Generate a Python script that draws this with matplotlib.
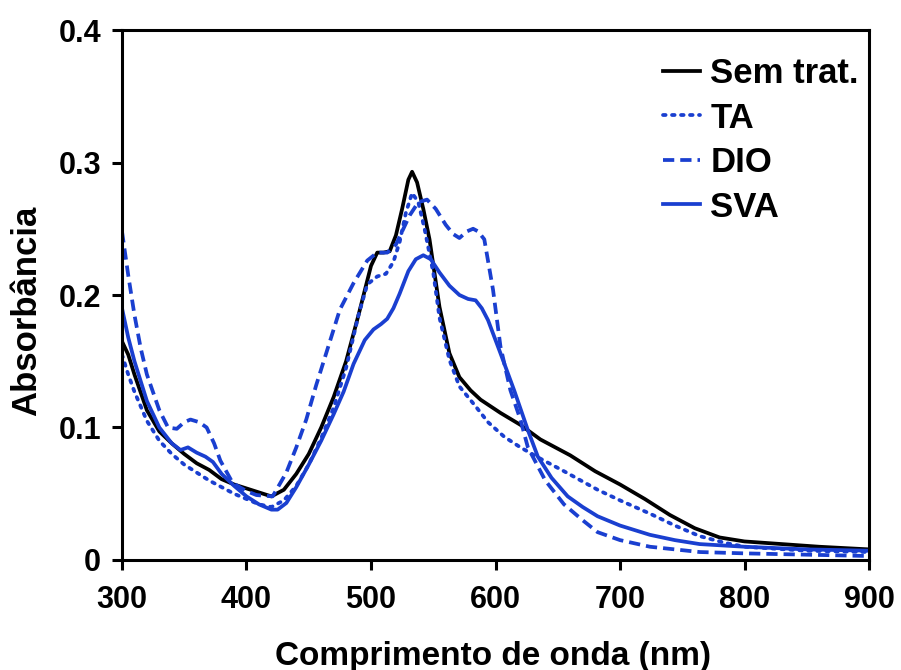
import numpy as np
import matplotlib.pyplot as plt

# UV-vis absorbance spectra
wl_sem = [300, 305, 310, 320, 330, 340, 350, 360, 370, 380, 390, 400, 410, 420, 430,
          440, 450, 460, 470, 480, 490, 500, 505, 510, 515, 520, 525, 530, 533, 537,
          542, 547, 555, 563, 571, 580, 588, 604, 620, 636, 660, 680, 700,
          720, 740, 760, 780, 800, 830, 860, 900]
abs_sem = [0.165, 0.155, 0.140, 0.113, 0.097, 0.088, 0.080, 0.073, 0.068, 0.061, 0.057,
           0.054, 0.051, 0.048, 0.053, 0.065, 0.080, 0.100, 0.123, 0.150, 0.185, 0.222,
           0.232, 0.232, 0.233, 0.245, 0.265, 0.287, 0.293, 0.285, 0.265, 0.242, 0.191,
           0.156, 0.138, 0.128, 0.121, 0.111, 0.102, 0.091, 0.079, 0.067,
           0.057, 0.046, 0.034, 0.024, 0.017, 0.014, 0.012, 0.010, 0.008]

wl_ta = [300, 305, 310, 320, 330, 340, 350, 360, 370, 380, 390, 400, 410, 420, 430, 440,
         450, 460, 470, 480, 490, 497, 505, 512, 518, 523, 528, 533, 538, 543, 550, 555,
         563, 571, 584, 594, 607, 620, 635, 655, 682, 700, 724, 744, 764, 784, 800, 850,
         900]
abs_ta = [0.155, 0.140, 0.127, 0.105, 0.090, 0.080, 0.072, 0.066, 0.060, 0.055, 0.050,
          0.046, 0.042, 0.040, 0.045, 0.056, 0.072, 0.092, 0.115, 0.145, 0.185, 0.208,
          0.214, 0.216, 0.225, 0.240, 0.262, 0.277, 0.270, 0.250, 0.217, 0.183, 0.151,
          0.131, 0.116, 0.104, 0.093, 0.085, 0.077, 0.067, 0.053, 0.045, 0.035, 0.026,
          0.018, 0.013, 0.010, 0.007, 0.006]

wl_dio = [300, 305, 310, 315, 320, 330, 337, 344, 350, 355, 362, 368, 374, 379, 389, 400,
          408, 421, 432, 440, 448, 456, 464, 475, 486, 497, 505, 513, 520, 526, 531, 538,
          545, 552, 560, 566, 571, 577, 582, 586, 591, 598, 604, 612, 620, 626, 640, 655,
          670, 682, 700, 724, 764, 800, 850, 900]
abs_dio = [0.248, 0.215, 0.185, 0.160, 0.140, 0.113, 0.100, 0.099, 0.104, 0.106, 0.104,
           0.100, 0.088, 0.075, 0.058, 0.052, 0.049, 0.048, 0.066, 0.085, 0.106, 0.132,
           0.156, 0.189, 0.209, 0.226, 0.232, 0.232, 0.238, 0.250, 0.260, 0.270, 0.272,
           0.265, 0.253, 0.246, 0.243, 0.248, 0.250, 0.248, 0.242, 0.204, 0.161, 0.128,
           0.106, 0.085, 0.060, 0.042, 0.030, 0.021, 0.015, 0.010, 0.006, 0.005, 0.004,
           0.003]

wl_sva = [300, 305, 310, 320, 330, 340, 347, 353, 360, 367, 373, 380, 390, 400, 410, 420,
          425, 432, 440, 450, 460, 470, 478, 486, 495, 502, 508, 513, 518, 523, 530, 536,
          542, 548, 555, 563, 571, 578, 584, 589, 594, 604, 615, 626, 634, 645, 658, 670,
          682, 700, 724, 744, 764, 800, 850, 900]
abs_sva = [0.190, 0.168, 0.150, 0.120, 0.100, 0.088, 0.083, 0.085, 0.081, 0.078, 0.074,
           0.065, 0.056, 0.048, 0.042, 0.038, 0.038, 0.043, 0.055, 0.072, 0.090, 0.110,
           0.127, 0.148, 0.166, 0.174, 0.178, 0.182, 0.190, 0.201, 0.218, 0.227, 0.230,
           0.227, 0.217, 0.207, 0.200, 0.197, 0.196, 0.190, 0.181, 0.156, 0.128, 0.098,
           0.078, 0.062, 0.048, 0.040, 0.033, 0.026, 0.019, 0.015, 0.012, 0.010, 0.008,
           0.007]

BLUE = '#1a3fd0'

plt.rcParams['font.family'] = ['Liberation Sans', 'DejaVu Sans']
plt.rcParams['font.weight'] = 'bold'

fig = plt.figure(figsize=(9.01, 6.70), dpi=100)
ax = fig.add_axes([0.1354, 0.1642, 0.8291, 0.791])

lw = 2.7
ax.plot(wl_sem, abs_sem, color='black', lw=lw, label='Sem trat.')
ax.plot(wl_ta, abs_ta, color=BLUE, lw=lw, linestyle=(0, (0.7, 1.7)),
        dash_capstyle='round', label='TA')
ax.plot(wl_dio, abs_dio, color=BLUE, lw=lw, linestyle=(0, (3.0, 1.6)), label='DIO')
ax.plot(wl_sva, abs_sva, color=BLUE, lw=lw, label='SVA')

ax.set_xlim(300, 900)
ax.set_ylim(0, 0.4)
ax.set_xticks([300, 400, 500, 600, 700, 800, 900])
ax.set_yticks([0, 0.1, 0.2, 0.3, 0.4])
ax.set_yticklabels(['0', '0.1', '0.2', '0.3', '0.4'])

for s in ax.spines.values():
    s.set_linewidth(2.2)
ax.tick_params(direction='out', length=7, width=2.2, labelsize=22)
ax.tick_params(axis='x', pad=11)
ax.tick_params(axis='y', pad=8)

ax.set_xlabel('Comprimento de onda (nm)', fontsize=24, fontweight='bold')
ax.xaxis.set_label_coords(0.497, -0.152)
ax.set_ylabel('Absorbância', fontsize=25, fontweight='bold')
ax.yaxis.set_label_coords(-0.105, 0.47)

leg = ax.legend(loc='upper right', frameon=False, fontsize=25, handlelength=1.05,
                handletextpad=0.3, labelspacing=0.33, borderaxespad=0.0,
                bbox_to_anchor=(1.005, 0.975))
for t in leg.get_texts():
    t.set_fontweight('bold')

fig.savefig('out.png', dpi=100)
